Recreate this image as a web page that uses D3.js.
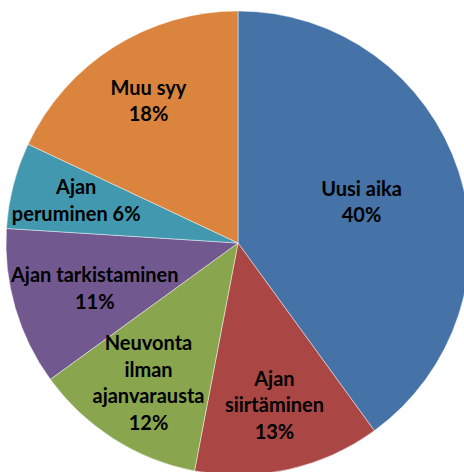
<!DOCTYPE html>
<html>
<head>
<meta charset="utf-8">
<script src="https://cdn.jsdelivr.net/npm/d3@7"></script>
<style>
  html, body { margin: 0; padding: 0; background: #fff; }
  svg { display: block; }
</style>
</head>
<body>
<div id="chart"></div>
<script>
// slices, clockwise from 12 o'clock
const categories = ["Uusi aika", "Ajan siirtäminen", "Neuvonta ilman ajanvarausta",
  "Ajan tarkistaminen", "Ajan peruminen", "Muu syy"];
const values = [40, 13, 12, 11, 6, 18];
const labelLines = [
  ["Uusi aika", "40%"],
  ["Ajan", "siirtäminen", "13%"],
  ["Neuvonta", "ilman", "ajanvarausta", "12%"],
  ["Ajan tarkistaminen", "11%"],
  ["Ajan", "peruminen 6%"],
  ["Muu syy", "18%"]
];
const colors = ["#4572A7", "#AA4643", "#89A54E", "#71588F", "#4198AF", "#DB843D"];

let width = 464, height = 472,
  cx = 238, cy = 243, radius = 232,
  lineHeight = 26.5;

const data = categories.map((c, i) => ({name: c, value: values[i], lines: labelLines[i], color: colors[i]}));

const pie = d3.pie()
  .value(d => d.value)
  .sort(null);

const arc = d3.arc()
  .innerRadius(0)
  .outerRadius(radius);

const svg = d3.select("#chart")
  .append("svg")
  .attr("width", width)
  .attr("height", height);

const g = svg.append("g")
  .attr("transform", `translate(${cx},${cy})`);

const arcs = pie(data);

g.selectAll("path")
  .data(arcs)
  .join("path")
  .attr("d", arc)
  .attr("fill", d => d.data.color)
  .attr("stroke", "rgba(255,255,255,0.6)")
  .attr("stroke-width", 0.75);

// big slices get their label nearer the centre, like Excel's best fit
let labelArc = d => {
  let k = (d.endAngle - d.startAngle) > Math.PI / 2 ? 0.56 : 0.72;
  return d3.arc().innerRadius(radius * k).outerRadius(radius * k).centroid(d);
};

const labels = g.selectAll("text.label")
  .data(arcs)
  .join("text")
  .attr("class", "label")
  .attr("text-anchor", "middle")
  .attr("font-family", "Lato, 'Open Sans', sans-serif")
  .attr("font-weight", "bold")
  .attr("font-size", 20)
  .attr("fill", "#000");

labels.each(function (d) {
  let [x, y] = labelArc(d);
  let n = d.data.lines.length;
  let t = d3.select(this);
  t.selectAll("tspan")
    .data(d.data.lines)
    .join("tspan")
    .attr("x", x)
    .attr("y", (l, i) => y + (i - (n - 1) / 2) * lineHeight + 6)
    .text(l => l);
  // keep the label inside the picture
  let box = this.getBBox();
  let shift = 0;
  if (cx + box.x < 10) shift = 10 - (cx + box.x);
  if (cx + box.x + box.width > width - 10) shift = (width - 10) - (cx + box.x + box.width);
  t.selectAll("tspan").attr("x", x + shift);
});
</script>
</body>
</html>
